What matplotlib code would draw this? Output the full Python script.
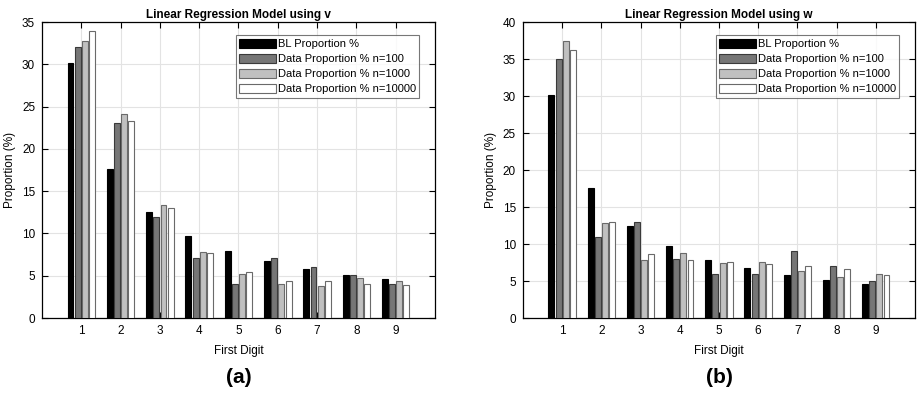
import matplotlib
matplotlib.use("Agg")
import matplotlib.pyplot as plt
import numpy as np

plt.rcParams['font.family'] = ['Liberation Sans', 'DejaVu Sans']

digits = [1, 2, 3, 4, 5, 6, 7, 8, 9]
series_labels = ["BL Proportion %", "Data Proportion % n=100",
                 "Data Proportion % n=1000", "Data Proportion % n=10000"]

# Panel (a): model using v
v_bl = [30.1, 17.6, 12.5, 9.7, 7.9, 6.7, 5.8, 5.1, 4.6]
v_n100 = [32.0, 23.0, 12.0, 7.05, 4.05, 7.05, 6.0, 5.05, 4.05]
v_n1000 = [32.75, 24.15, 13.4, 7.8, 5.25, 4.05, 3.75, 4.7, 4.35]
v_n10000 = [33.95, 23.35, 13.05, 7.7, 5.4, 4.4, 4.35, 4.05, 3.9]

# Panel (b): model using w
w_bl = [30.1, 17.6, 12.5, 9.7, 7.9, 6.7, 5.8, 5.1, 4.6]
w_n100 = [35.0, 11.0, 13.0, 8.0, 6.0, 6.0, 9.0, 7.0, 5.0]
w_n1000 = [37.5, 12.9, 7.9, 8.8, 7.4, 7.6, 6.4, 5.5, 6.0]
w_n10000 = [36.2, 12.95, 8.7, 7.9, 7.55, 7.25, 7.05, 6.65, 5.8]

colors = ['#000000', '#767676', '#c0c0c0', '#ffffff']
edges = ['#000000', '#3a3a3a', '#6a6a6a', '#6a6a6a']

fig = plt.figure(figsize=(9.18, 4.03), dpi=100)
ax1 = fig.add_axes([0.0458, 0.2109, 0.428, 0.7345])
ax2 = fig.add_axes([0.5697, 0.2109, 0.427, 0.7345])

def draw(ax, data, ymax, title, letter):
    x = np.array(digits, dtype=float)
    step = 0.183
    width = 0.15
    for i, vals in enumerate(data):
        ax.bar(x + (i - 1.5) * step, vals, width=width, color=colors[i],
               edgecolor=edges[i], linewidth=0.8, label=series_labels[i], zorder=3)
    ax.set_xlim(0, 10)
    ax.set_ylim(0, ymax)
    ax.set_xticks(digits)
    ax.set_yticks(np.arange(0, ymax + 1, 5))
    ax.grid(True, color='#e3e3e3', linewidth=0.8, zorder=0)
    ax.set_axisbelow(True)
    ax.tick_params(direction='in', top=True, right=True, labelsize=8.5,
                   length=4, width=0.8, pad=5)
    for s in ax.spines.values():
        s.set_linewidth(0.9)
    ax.set_title(title, fontsize=8.5, fontweight='bold', pad=3)
    ax.set_xlabel("First Digit", fontsize=8.5, labelpad=6)
    ax.set_ylabel("Proportion (%)", fontsize=8.5, labelpad=4)
    leg = ax.legend(loc='upper right', bbox_to_anchor=(0.96, 0.955), fontsize=8,
                    frameon=True, fancybox=False, edgecolor='#555555',
                    handlelength=3.3, handleheight=0.9, handletextpad=0.2,
                    labelspacing=0.42, borderpad=0.3, borderaxespad=0)
    leg.get_frame().set_linewidth(0.8)
    ax.text(0.5, -0.17, letter, transform=ax.transAxes, ha='center', va='top',
            fontsize=15, fontweight='bold')

draw(ax1, [v_bl, v_n100, v_n1000, v_n10000], 35, "Linear Regression Model using v", "(a)")
draw(ax2, [w_bl, w_n100, w_n1000, w_n10000], 40, "Linear Regression Model using w", "(b)")

fig.savefig("out.png", dpi=100)
